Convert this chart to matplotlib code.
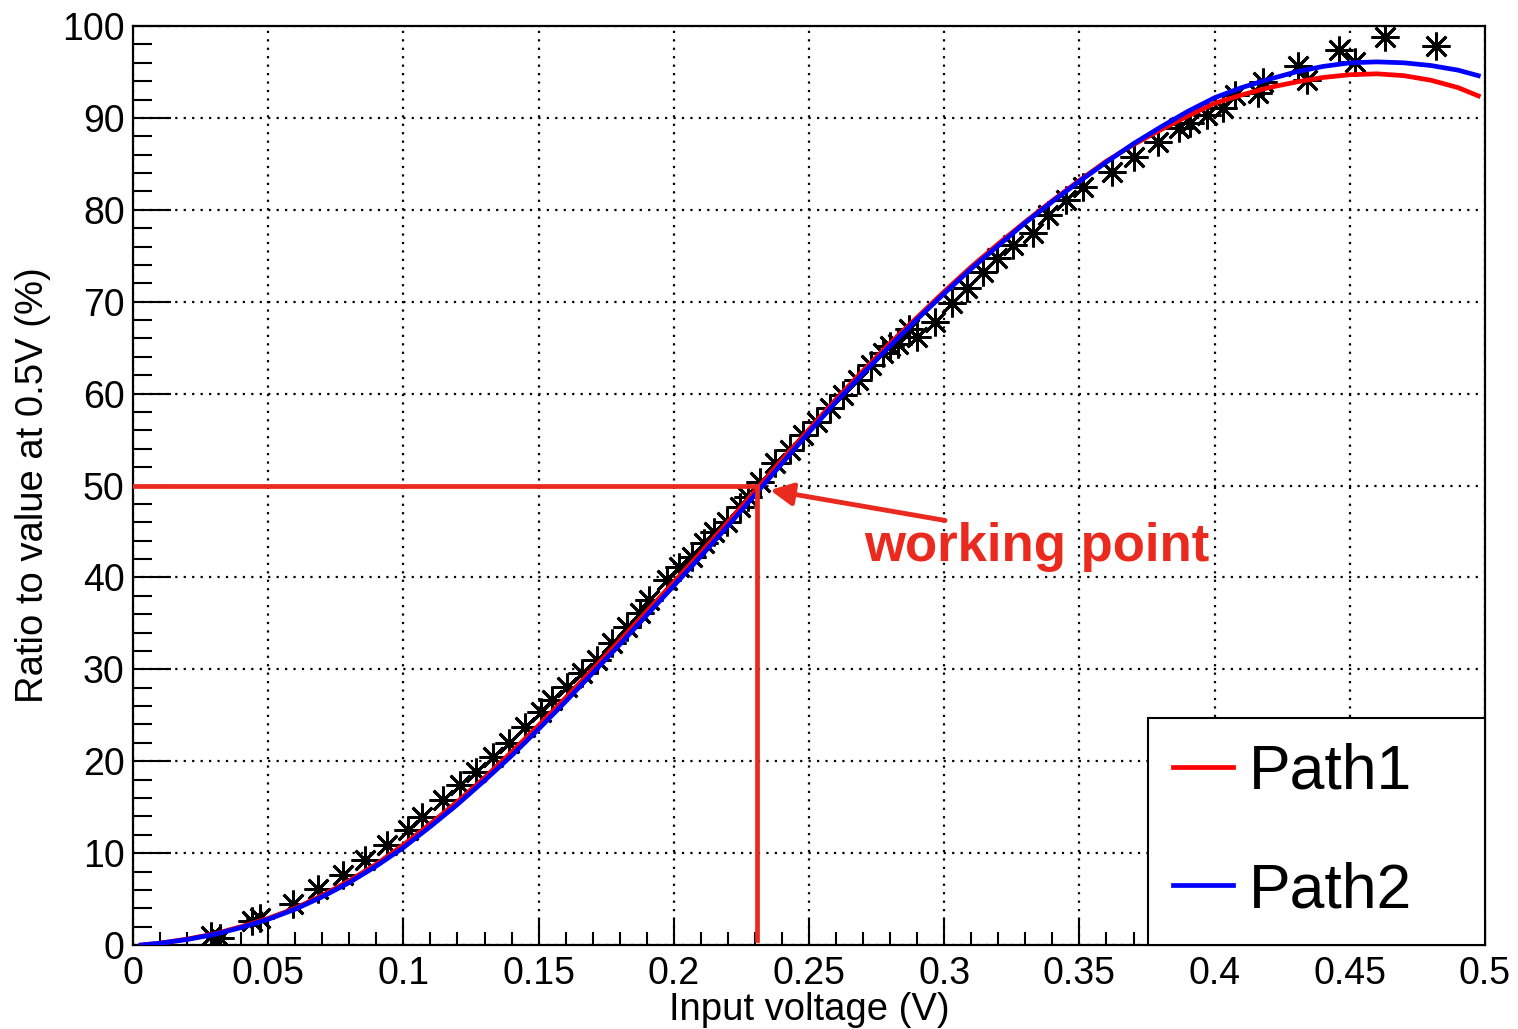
import numpy as np
import matplotlib
matplotlib.use("Agg")
import matplotlib.pyplot as plt
import matplotlib.ticker as ticker

plt.rcParams['font.family'] = ['Liberation Sans', 'DejaVu Sans']

# measured points (asterisks)
meas_x = [0.029, 0.032, 0.044, 0.047, 0.059, 0.0685, 0.0777, 0.0858, 0.094, 0.1017,
          0.107, 0.1146, 0.121, 0.127, 0.133, 0.139, 0.145, 0.151, 0.155, 0.1605,
          0.166, 0.1716, 0.177, 0.1827, 0.1875, 0.191, 0.1975, 0.202, 0.2067, 0.211,
          0.215, 0.2197, 0.2245, 0.2275, 0.2319, 0.2375, 0.243, 0.2478, 0.253, 0.2578,
          0.2626, 0.268, 0.273, 0.2774, 0.280, 0.283, 0.287, 0.290, 0.2966, 0.3029,
          0.3084, 0.3143, 0.3195, 0.3254, 0.3328, 0.3384, 0.345, 0.3513, 0.362, 0.370,
          0.379, 0.387, 0.391, 0.397, 0.403, 0.4075, 0.416, 0.418, 0.431, 0.434,
          0.446, 0.452, 0.463, 0.482]
meas_y = [1.0, 0.8, 2.6, 2.9, 4.5, 6.1, 7.6, 9.2, 10.9, 12.5,
          13.9, 15.8, 17.4, 18.8, 20.5, 22.0, 23.7, 25.4, 26.7, 28.1,
          29.6, 31.0, 32.9, 34.6, 36.1, 37.5, 39.7, 41.1, 42.2, 43.7,
          44.9, 46.0, 47.7, 48.7, 50.4, 52.4, 53.9, 55.5, 56.9, 58.4,
          59.8, 61.5, 63.1, 64.4, 65.2, 65.4, 67.0, 66.2, 67.8, 69.9,
          71.5, 73.2, 74.8, 76.2, 77.5, 79.4, 81.1, 82.5, 84.1, 85.8,
          87.4, 88.9, 89.4, 90.3, 91.1, 92.5, 92.7, 93.9, 95.7, 94.1,
          97.4, 96.1, 98.8, 97.8]

# fitted curves
curve_x = [0.003, 0.01, 0.02, 0.03, 0.04, 0.05, 0.06, 0.07, 0.08, 0.09,
           0.10, 0.11, 0.12, 0.13, 0.14, 0.15, 0.16, 0.17, 0.18, 0.19,
           0.20, 0.21, 0.22, 0.23, 0.24, 0.25, 0.26, 0.27, 0.28, 0.29,
           0.30, 0.31, 0.32, 0.33, 0.34, 0.35, 0.36, 0.37, 0.38, 0.39,
           0.40, 0.41, 0.42, 0.43, 0.44, 0.45, 0.46, 0.47, 0.48, 0.49, 0.4975]
path1_y = [0.0, 0.2, 0.65, 1.2, 2.0, 2.9, 4.0, 5.4, 7.0, 8.8,
           10.9, 13.2, 15.6, 18.2, 21.0, 23.9, 26.9, 30.0, 33.1, 36.3,
           39.5, 42.7, 46.0, 49.4, 52.8, 56.1, 59.4, 62.5, 65.5, 68.3,
           71.1, 73.8, 76.3, 78.7, 81.0, 83.2, 85.3, 87.1, 88.7, 90.2,
           91.6, 92.5, 93.3, 93.9, 94.4, 94.7, 94.8, 94.6, 94.1, 93.3, 92.4]
path2_y = [0.0, 0.2, 0.6, 1.15, 1.9, 2.8, 3.9, 5.25, 6.8, 8.6,
           10.6, 12.9, 15.3, 17.9, 20.6, 23.5, 26.5, 29.6, 32.7, 35.9,
           39.1, 42.3, 45.6, 49.0, 52.4, 55.8, 59.1, 62.2, 65.2, 68.1,
           70.9, 73.6, 76.1, 78.6, 80.9, 83.1, 85.2, 87.2, 89.0, 90.7,
           92.2, 93.3, 94.2, 95.0, 95.6, 96.0, 96.1, 96.0, 95.7, 95.2, 94.6]

work_x = 0.2308
work_y = 50

red_ann = '#ea2a1e'

fig = plt.figure(figsize=(15.18, 10.29), dpi=100)
ax = fig.add_axes([0.0876, 0.0816, 0.8907, 0.8931])

ax.plot(meas_x, meas_y, linestyle='none', marker=(8, 2, 0), markersize=20,
        markeredgewidth=2.0, color='black', zorder=3)
ax.plot(curve_x, path1_y, color='#ff0000', lw=3.4, label='Path1', zorder=4)
ax.plot(curve_x, path2_y, color='#0000ff', lw=3.4, label='Path2', zorder=4)

# working point marks
ax.plot([0, work_x], [work_y, work_y], color=red_ann, lw=3.4, zorder=5)
ax.plot([work_x, work_x], [0.5, work_y], color=red_ann, lw=3.4, zorder=5)
ax.annotate('', xy=(0.2356, 49.5), xytext=(0.3003, 46.2),
            arrowprops=dict(arrowstyle='-|>', color=red_ann, lw=3.5, mutation_scale=34,
                            shrinkA=0, shrinkB=0), zorder=6)
ax.text(0.2705, 43.3, 'working point', color=red_ann, fontsize=38, fontweight='bold',
        ha='left', va='center', zorder=6)

ax.set_xlim(0, 0.5)
ax.set_ylim(0, 100)
ax.xaxis.set_major_locator(ticker.MultipleLocator(0.05))
ax.xaxis.set_minor_locator(ticker.MultipleLocator(0.01))
ax.yaxis.set_major_locator(ticker.MultipleLocator(10))
ax.yaxis.set_minor_locator(ticker.MultipleLocator(2))
ax.xaxis.set_major_formatter(ticker.FuncFormatter(lambda v, p: ('%g' % round(v, 3))))

ax.tick_params(axis='both', which='both', direction='in', width=1.5, labelsize=27,
               top=False, right=False)
ax.tick_params(axis='x', which='major', length=19, pad=8)
ax.tick_params(axis='x', which='minor', length=9.5)
ax.tick_params(axis='y', which='major', length=27, pad=6)
ax.tick_params(axis='y', which='minor', length=14)
for s in ax.spines.values():
    s.set_linewidth(1.6)

ax.grid(True, which='major', color='black', linestyle=(0, (1, 2.8)), lw=1.6)

ax.set_xlabel('Input voltage (V)', fontsize=27.5, labelpad=0)
ax.set_ylabel('Ratio to value at 0.5V (%)', fontsize=27.5, labelpad=8)

leg = ax.legend(loc='lower left', bbox_to_anchor=(0.751, 0.0, 0.249, 0.25), mode='expand',
                borderaxespad=0, fontsize=45, handlelength=0.95, handletextpad=0.25,
                labelspacing=0.95, borderpad=0.4, fancybox=False, framealpha=1,
                edgecolor='black')
leg.get_frame().set_linewidth(1.5)
for h in leg.get_lines():
    h.set_linewidth(3.4)

fig.savefig('out.png', dpi=100)
